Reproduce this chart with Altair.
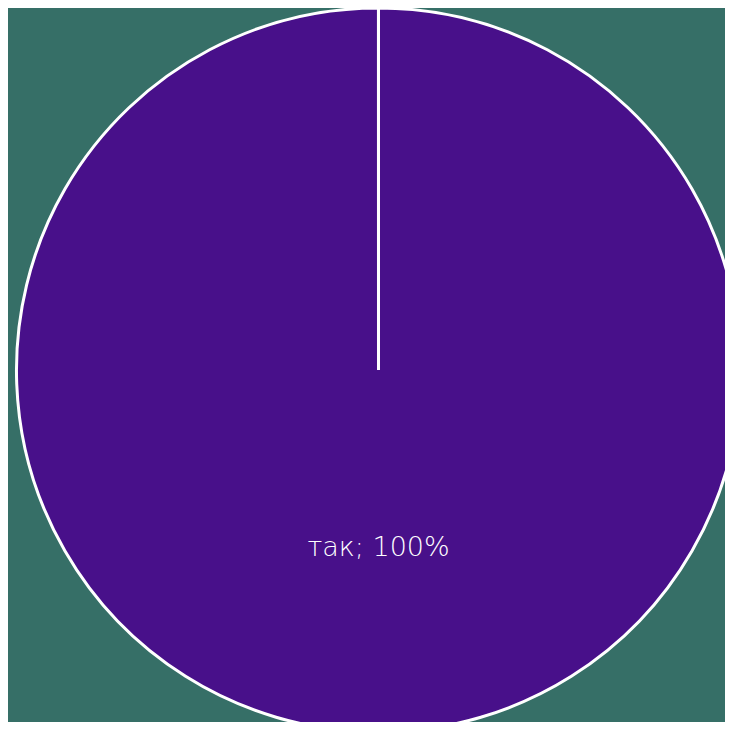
import altair as alt
import pandas as pd

categories = ["так"]
values = [100]
labels = ["так; 100%"]

df = pd.DataFrame({"category": categories, "value": values, "label": labels})

cx, cy, r = 370.5, 362, 362

base = alt.Chart(df).encode(
    theta=alt.Theta("value:Q", stack=True, scale=alt.Scale(range=[0, 6.283])),
    x=alt.value(cx),
    y=alt.value(cy),
)

pie = base.mark_arc(
    outerRadius=r,
    stroke="white",
    strokeWidth=3,
    fill="#48108a",
    strokeJoin="miter",
)

text = base.mark_text(
    radius=178,
    font="DejaVu Sans",
    fontSize=27,
    color="white",
    fontWeight=200,
).encode(text="label:N")

chart = (
    alt.layer(pie, text)
    .properties(
        width=717,
        height=714,
        background="#366f67",
        padding=0,
        autosize=alt.AutoSizeParams(type="none"),
    )
    .configure_view(stroke=None)
)

chart.save("out.html", embed_options={"renderer": "svg", "actions": False})
